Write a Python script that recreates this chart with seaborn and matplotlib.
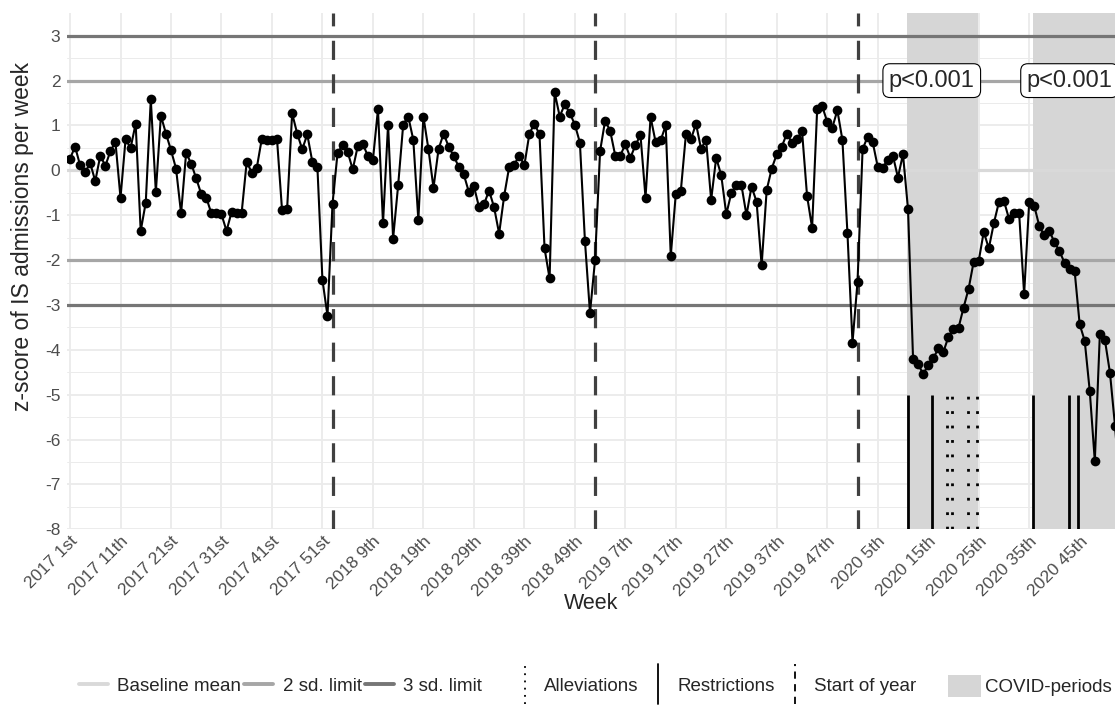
import numpy as np
import pandas as pd
import matplotlib
matplotlib.use("Agg")
import matplotlib.pyplot as plt
import seaborn as sns
from matplotlib.lines import Line2D
from matplotlib.patches import Patch
from matplotlib.legend_handler import HandlerBase

# ---------------- data ----------------
years = [2017, 2018, 2019, 2020]
weeks_per_year = [52, 52, 52, 53]

zscore = [
    0.26, 0.53, 0.11, -0.04, 0.16, -0.24, 0.33, 0.10, 0.43, 0.63,
    -0.61, 0.69, 0.50, 1.04, -1.35, -0.72, 1.58, -0.48, 1.22, 0.82,
    0.45, 0.04, -0.96, 0.39, 0.15, -0.18, -0.53, -0.61, -0.96, -0.96,
    -0.98, -1.35, -0.93, -0.94, -0.94, 0.19, -0.05, 0.06, 0.71, 0.67,
    0.67, 0.70, -0.89, -0.87, 1.27, 0.82, 0.47, 0.80, 0.19, 0.08,
    -2.44, -3.24,
    -0.74, 0.39, 0.56, 0.41, 0.02, 0.54, 0.59, 0.32, 0.23, 1.36,
    -1.18, 1.02, -1.52, -0.33, 1.02, 1.20, 0.68, -1.11, 1.20, 0.47,
    -0.39, 0.47, 0.82, 0.53, 0.32, 0.08, -0.09, -0.48, -0.35, -0.81,
    -0.76, -0.45, -0.82, -1.41, -0.57, 0.08, 0.13, 0.33, 0.11, 0.82,
    1.04, 0.80, -1.74, -2.41, 1.74, 1.20, 1.47, 1.28, 1.02, 0.62,
    -1.57, -3.18,
    -2.00, 0.43, 1.11, 0.88, 0.33, 0.33, 0.58, 0.28, 0.56, 0.79,
    -0.61, 1.19, 0.63, 0.67, 1.00, -1.91, -0.52, -0.45, 0.80, 0.69,
    1.04, 0.48, 0.68, -0.66, 0.28, -0.11, -0.98, -0.50, -0.33, -0.33,
    -1.00, -0.36, -0.70, -2.12, -0.44, 0.04, 0.36, 0.53, 0.82, 0.62,
    0.69, 0.88, -0.57, -1.28, 1.36, 1.43, 1.08, 0.95, 1.34, 0.68,
    -1.40, -3.84,
    -2.48, 0.47, 0.75, 0.63, 0.08, 0.06, 0.24, 0.33, -0.16, 0.36,
    -0.87, -4.21, -4.32, -4.54, -4.34, -4.19, -3.97, -4.05, -3.71, -3.53,
    -3.51, -3.06, -2.64, -2.04, -2.02, -1.37, -1.74, -1.18, -0.71, -0.68,
    -1.08, -0.94, -0.94, -2.76, -0.71, -0.79, -1.24, -1.45, -1.35, -1.60,
    -1.80, -2.06, -2.19, -2.24, -3.43, -3.80, -4.92, -6.48, -3.65, -3.78,
    -4.51, -5.69, -7.14,
]

year_starts = [52, 104, 156]                       # week index of 1st week of 2018-2020
covid_periods = [(165.85, 179.8), (190.7, 215.0)]
restrictions = [165.9, 170.8, 190.7, 197.8, 199.7]
alleviations = [173.7, 174.7, 177.9, 179.65]
p_labels = ["p<0.001", "p<0.001"]
p_label_x = [170.7, 198.0]
p_label_y = 2

baseline_levels = [0]
sd2_levels = [-2, 2]
sd3_levels = [-3, 3]

tick_step = 10

# ---------------- build labels ----------------
def ordinal(n):
    if 10 <= n % 100 <= 20:
        suf = "th"
    else:
        suf = {1: "st", 2: "nd", 3: "rd"}.get(n % 10, "th")
    return f"{n}{suf}"

week_labels = []
for y, nw in zip(years, weeks_per_year):
    for w in range(1, nw + 1):
        week_labels.append(f"{y} {ordinal(w)}")

df = pd.DataFrame({"idx": np.arange(len(zscore)), "z": zscore})

# ---------------- style ----------------
sns.set_theme(style="white")
plt.rcParams["font.family"] = ["Liberation Sans", "DejaVu Sans"]
plt.rcParams["axes.unicode_minus"] = False

fig = plt.figure(figsize=(11.15, 7.09), dpi=100)
ax = fig.add_axes([0.0604, 0.2535, 0.9396, 0.7277])

c_base = "#D9D9D9"
c_2sd = "#A6A6A6"
c_3sd = "#767676"
c_shade = "#D6D6D6"
c_year = "#404040"

# grid
ax.set_axisbelow(True)
ax.set_yticks(range(-8, 4))
ax.set_yticks(np.arange(-7.5, 3.0, 1.0), minor=True)
ax.grid(True, which="major", axis="both", color="#EBEBEB", lw=1.3)
ax.grid(True, which="minor", axis="y", color="#EBEBEB", lw=0.7)

# covid shading
for a, b in covid_periods:
    ax.axvspan(a, b, color=c_shade, lw=0, zorder=1)

# reference lines
for v in baseline_levels:
    ax.axhline(v, color=c_base, lw=2.3, zorder=2)
for v in sd2_levels:
    ax.axhline(v, color=c_2sd, lw=2.3, zorder=2)
for v in sd3_levels:
    ax.axhline(v, color=c_3sd, lw=2.3, zorder=2)

for x in year_starts:
    ax.axvline(x, color=c_year, lw=2.3, linestyle=(0, (6, 4.5)), zorder=3)

ax.vlines(restrictions, -8, -5, color="black", lw=2.0, zorder=3)
ax.vlines(alleviations, -8, -5, color="black", lw=2.0,
          linestyles=[(0, (1, 4.2))], zorder=3)

# data
sns.lineplot(data=df, x="idx", y="z", ax=ax, color="black", lw=1.5,
             marker="o", markersize=7, markeredgewidth=0, zorder=5)

# p labels
for lab, xx in zip(p_labels, p_label_x):
    ax.text(xx, p_label_y, lab, ha="center", va="center", fontsize=17,
            zorder=6,
            bbox=dict(boxstyle="round,pad=0.25,rounding_size=0.3",
                      fc="white", ec="black", lw=0.8))

# axes
ax.set_xlim(-0.53, 207.0)
ax.set_ylim(-8, 3.5)
ticks = list(range(0, len(week_labels), tick_step))
ax.set_xticks(ticks)
ax.set_xticklabels([week_labels[i] for i in ticks])
for s in ax.spines.values():
    s.set_visible(False)
ax.tick_params(axis="both", which="both", length=0, labelsize=12.5,
               labelcolor="#4D4D4D")
ax.tick_params(axis="x", pad=3)
ax.tick_params(axis="y", pad=5)
plt.setp(ax.get_xticklabels(), rotation=45, ha="right", va="top",
         rotation_mode="anchor")

ax.set_xlabel("Week", fontsize=15.5, va="center")
ax.xaxis.set_label_coords(0.5, -0.143)
ax.set_ylabel("z-score of IS admissions per week", fontsize=16.5, va="center")
ax.yaxis.set_label_coords(-0.0432, 0.568)


# ---------------- legend ----------------
class HandlerVLine(HandlerBase):
    def create_artists(self, legend, orig_handle, xdescent, ydescent,
                       width, height, fontsize, trans):
        x = 0.5 * width - xdescent
        yc = -ydescent + 0.5 * height
        half = 1.5 * height
        l = Line2D([x, x], [yc - half, yc + half])
        l.update_from(orig_handle)
        l.set_transform(trans)
        return [l]


leg_y = 0.0324
leg_fs = 13.5
common = dict(loc="center left", frameon=False, fontsize=leg_fs,
              borderpad=0, borderaxespad=0)

h1 = [Line2D([], [], color=c_base, lw=2.8),
      Line2D([], [], color=c_2sd, lw=2.8),
      Line2D([], [], color=c_3sd, lw=2.8)]
leg1 = fig.legend(h1, ["Baseline mean", "2 sd. limit", "3 sd. limit"],
                  bbox_to_anchor=(0.0709, leg_y), ncol=3,
                  handlelength=1.55, handletextpad=0.5, columnspacing=0.15,
                  **common)

h2 = [Line2D([], [], color="black", lw=1.3, linestyle=(0, (1, 3))),
      Line2D([], [], color="black", lw=1.3),
      Line2D([], [], color="black", lw=1.3, linestyle=(0, (4, 3)))]
leg2 = fig.legend(h2, ["Alleviations", "Restrictions", "Start of year"],
                  bbox_to_anchor=(0.4655, leg_y), ncol=3,
                  handlelength=0.6, handletextpad=0.72, columnspacing=0.77,
                  handler_map={Line2D: HandlerVLine()}, **common)

h3 = [Patch(facecolor=c_shade, edgecolor="none")]
leg3 = fig.legend(h3, ["COVID-periods"], bbox_to_anchor=(0.8502, leg_y),
                  handlelength=1.76, handleheight=1.5, handletextpad=0.2,
                  **common)

fig.savefig("out.png", dpi=100)
